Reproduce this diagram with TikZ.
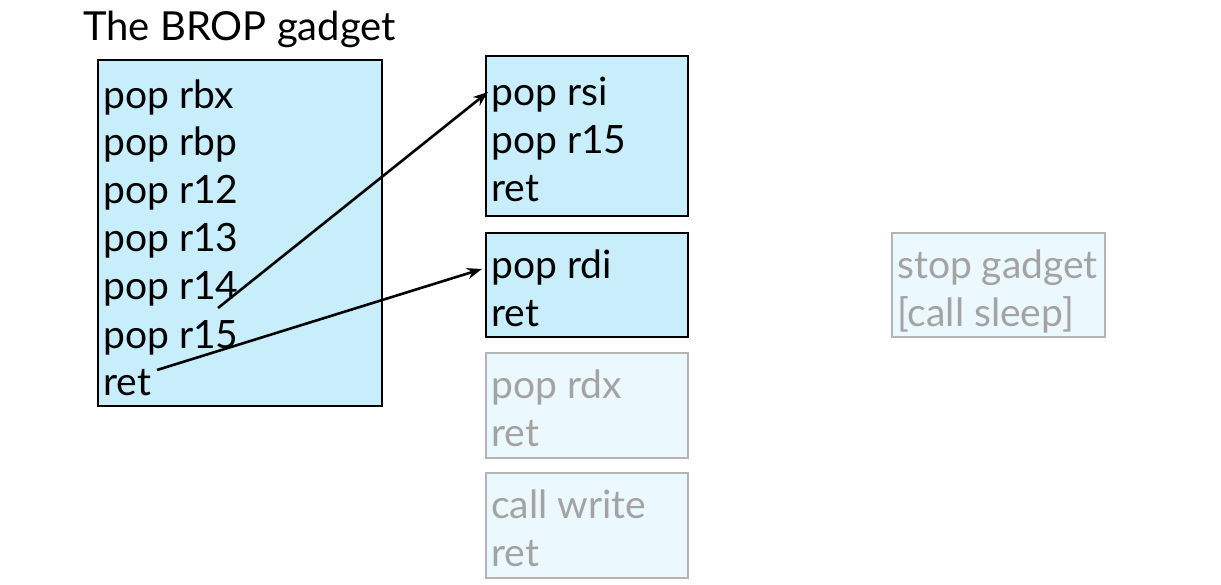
\documentclass[tikz,border=0pt]{standalone}
\usepackage{fontspec}
\setmainfont{Lato}
\usetikzlibrary{arrows.meta}
\definecolor{boxblue}{HTML}{C8EEFB}
\definecolor{boxpale}{HTML}{EBF8FD}
\definecolor{paleline}{HTML}{B4B4B4}
\definecolor{paletext}{HTML}{A3A3A3}
\tikzset{
  box/.style={draw=black, line width=2pt, fill=boxblue, inner sep=0pt, anchor=north west},
  palebox/.style={draw=paleline, line width=2pt, fill=boxpale, inner sep=0pt, anchor=north west},
  code/.style={anchor=base west, inner sep=0pt, font=\fontsize{39}{44}\selectfont},
  palecode/.style={code, text=paletext},
  link/.style={-{Stealth[length=15pt,width=11pt]}, line width=2.6pt}
}
\begin{document}
\begin{tikzpicture}[x=1pt,y=-1pt]
\useasboundingbox (0,0) rectangle (1221,584);
\node[code, font=\fontsize{40}{44}\selectfont] (title) at (83,40) {The BROP gadget};
% main box
\node[box, minimum width=284pt, minimum height=346pt] (main) at (97,59) {};
\node[code] (m1) at (103,108) {pop rbx};
\node[code] (m2) at (103,155.5) {pop rbp};
\node[code] (m3) at (103,203.5) {pop r12};
\node[code] (m4) at (103,251.5) {pop r13};
\node[code] (m5) at (103,299.5) {pop r14};
\node[code] (m6) at (103,348.5) {pop r15};
\node[code] (m7) at (103,395.5) {ret};
% rsi box
\node[box, minimum width=202pt, minimum height=160pt] (rsi) at (485,55) {};
\node[code] (s1) at (491,105) {pop rsi};
\node[code] (s2) at (491,153) {pop r15};
\node[code] (s3) at (491,201) {ret};
% rdi box
\node[box, minimum width=202pt, minimum height=104pt] (rdi) at (485,232) {};
\node[code] (d1) at (491,278) {pop rdi};
\node[code] (d2) at (491,326) {ret};
% rdx box
\node[palebox, minimum width=202pt, minimum height=105pt] (rdx) at (485,352) {};
\node[palecode] (x1) at (491,398) {pop rdx};
\node[palecode] (x2) at (491,446) {ret};
% write box
\node[palebox, minimum width=202pt, minimum height=105pt] (wr) at (485,472) {};
\node[palecode] (w1) at (491,518) {call write};
\node[palecode] (w2) at (491,566) {ret};
% stop box
\node[palebox, minimum width=213pt, minimum height=104pt] (stop) at (891,232) {};
\node[palecode] (t1) at (897,278) {stop gadget};
\node[palecode] (t2) at (897,326) {[call sleep]};
% arrows
\coordinate (a1s) at (218,308);
\coordinate (a1e) at (488,92);
\coordinate (a2s) at (157,370);
\coordinate (a2e) at (482,269);
\draw[link] (a1s) -- (a1e);
\draw[link] (a2s) -- (a2e);
\end{tikzpicture}
\end{document}
